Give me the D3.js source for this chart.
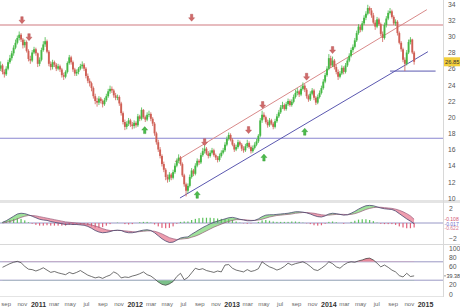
<!DOCTYPE html>
<html>
<head>
<meta charset="utf-8">
<style>
  body { margin: 0; background: #fff; }
  svg { display: block; font-family: "Liberation Sans", Arial, sans-serif; }
</style>
</head>
<body>
<svg id="chart" width="460" height="308"></svg>
<script src="https://cdn.jsdelivr.net/npm/d3@7/dist/d3.min.js"></script>
<script>
// weekly bars, first one on 13 Aug 2010
var startDate = new Date(2010, 7, 13);

var opens = [
  26.0, 26.4, 25.6, 25.3, 26.0, 26.8, 27.3, 27.9, 28.6, 29.2,
  29.8, 30.2, 29.6, 28.9, 29.3, 28.2, 27.2, 27.0, 28.0, 28.4,
  27.9, 26.6, 27.1, 28.3, 29.0, 29.4, 28.1, 26.6, 26.2, 26.8,
  26.5, 26.0, 26.3, 25.9, 25.2, 25.0, 25.6, 26.7, 27.4, 26.8,
  25.9, 25.4, 25.6, 26.0, 26.3, 26.5, 26.0, 25.1, 24.5, 24.2,
  23.6, 22.6, 22.0, 21.8, 22.3, 22.0, 21.6, 22.1, 22.6, 23.2,
  23.5, 23.3, 22.7, 22.4, 22.5, 21.7, 20.5, 19.4, 18.8, 19.2,
  19.6, 19.1, 18.9, 19.3, 19.0, 20.1, 19.8, 20.9, 20.0, 19.7,
  20.3, 20.4, 19.8, 19.2, 18.0, 16.9, 16.0, 15.2, 14.2, 13.5,
  12.6, 12.3, 12.9, 12.5, 13.2, 14.0, 14.6, 15.0, 14.2, 12.8,
  11.7, 10.9, 11.5, 12.6, 13.4, 13.0, 14.0, 14.6, 14.4, 15.3,
  15.8, 16.1, 15.5, 15.2, 15.6, 15.9, 15.3, 15.0, 14.7, 15.2,
  15.6, 15.9, 16.6, 17.3, 17.8, 17.2, 16.6, 16.0, 16.3, 16.9,
  16.6, 16.1, 15.9, 16.4, 16.8, 16.3, 15.8, 16.2, 16.6, 17.0,
  17.7, 19.6, 20.3, 20.0, 19.4, 19.0, 19.6, 19.2, 18.8, 19.5,
  20.1, 20.6, 21.2, 21.5, 21.0, 21.6, 22.0, 21.5, 21.9, 22.5,
  23.0, 23.2, 22.8, 23.5, 23.9, 23.4, 22.6, 22.2, 22.9, 23.3,
  22.4, 21.8, 22.5, 23.0, 23.6, 24.4, 25.2, 26.0, 27.3, 26.4,
  27.0, 26.2, 25.6, 25.0, 25.4, 26.1, 25.6, 26.4, 27.0, 27.6,
  28.3, 28.7, 29.5, 30.4, 31.2, 30.8, 31.6, 32.3, 32.8, 33.5,
  33.2, 32.6, 31.7, 31.2, 32.1, 31.5, 30.3, 29.8, 31.4, 32.2,
  32.9, 33.1, 32.4, 31.6, 31.8, 30.4, 29.2, 28.4, 27.1, 26.6,
  28.0, 29.3, 29.6, 28.0
];
var highs = [
  26.9, 26.6, 25.9, 26.3, 27.1, 27.7, 28.2, 28.9, 29.6, 30.1,
  30.6, 30.4, 29.8, 29.6, 29.5, 28.4, 27.6, 28.3, 28.7, 28.6,
  28.0, 27.4, 28.6, 29.4, 29.9, 29.6, 28.3, 26.9, 27.1, 27.0,
  26.7, 26.6, 26.5, 26.1, 25.5, 25.8, 26.9, 27.7, 27.6, 27.0,
  26.1, 25.9, 26.2, 26.6, 26.9, 26.7, 26.2, 25.4, 24.8, 24.4,
  23.8, 22.9, 22.4, 22.6, 22.5, 22.2, 22.4, 22.9, 23.5, 23.9,
  23.8, 23.5, 23.0, 22.8, 22.7, 21.9, 20.7, 19.7, 19.5, 19.9,
  19.8, 19.4, 19.6, 19.5, 20.4, 20.3, 21.2, 21.0, 20.2, 20.6,
  20.8, 20.6, 20.0, 19.4, 18.2, 17.2, 16.3, 15.4, 14.5, 13.7,
  12.9, 13.2, 13.1, 13.5, 14.3, 14.9, 15.4, 15.2, 14.4, 13.0,
  11.9, 11.8, 12.9, 13.7, 13.6, 14.3, 14.9, 14.8, 15.6, 16.2,
  16.5, 16.3, 15.8, 15.9, 16.2, 16.1, 15.5, 15.2, 15.5, 15.9,
  16.2, 16.9, 17.6, 18.1, 18.0, 17.4, 16.8, 16.6, 17.2, 17.1,
  16.8, 16.4, 16.7, 17.2, 17.0, 16.5, 16.5, 16.9, 17.3, 17.9,
  19.9, 20.8, 20.6, 20.2, 19.7, 19.9, 19.8, 19.4, 19.8, 20.4,
  20.9, 21.5, 21.9, 21.7, 21.9, 22.3, 22.2, 22.2, 22.8, 23.4,
  23.6, 23.4, 23.8, 24.3, 24.1, 23.6, 22.8, 23.2, 23.6, 23.5,
  22.6, 22.8, 23.3, 23.9, 24.7, 25.5, 26.3, 27.8, 27.6, 27.5,
  27.2, 26.5, 25.9, 25.7, 26.4, 26.3, 26.7, 27.3, 27.9, 28.6,
  29.0, 29.8, 30.7, 31.5, 31.4, 31.9, 32.6, 33.1, 33.9, 33.7,
  33.5, 32.9, 32.0, 32.4, 32.3, 31.7, 30.6, 31.7, 32.5, 33.2,
  33.5, 33.3, 32.6, 32.1, 32.0, 30.6, 29.4, 28.6, 27.4, 28.3,
  29.6, 29.9, 29.7, 28.2
];
var lows = [
  25.7, 25.3, 24.9, 25.1, 25.8, 26.6, 27.0, 27.6, 28.4, 29.0,
  29.5, 29.3, 28.5, 28.6, 28.0, 26.9, 26.6, 26.8, 27.8, 27.6,
  26.2, 26.3, 26.9, 28.1, 28.7, 27.9, 26.3, 25.8, 25.9, 26.2,
  25.7, 25.8, 25.6, 24.9, 24.6, 24.8, 25.4, 26.5, 26.5, 25.6,
  25.1, 25.1, 25.3, 25.8, 26.0, 25.7, 24.8, 24.2, 23.8, 23.2,
  22.3, 21.6, 21.3, 21.5, 21.7, 21.2, 21.4, 21.9, 22.4, 22.9,
  23.0, 22.4, 22.1, 22.1, 21.4, 20.2, 19.1, 18.4, 18.5, 18.9,
  18.8, 18.5, 18.6, 18.7, 18.8, 19.5, 19.6, 19.8, 19.4, 19.5,
  20.0, 19.5, 18.9, 17.7, 16.6, 15.7, 14.9, 13.9, 13.2, 12.2,
  11.9, 12.0, 12.2, 12.3, 13.0, 13.8, 14.3, 14.0, 12.6, 11.4,
  10.2, 10.6, 11.3, 12.4, 12.7, 12.8, 13.8, 14.1, 14.2, 15.1,
  15.5, 15.3, 14.9, 15.0, 15.4, 15.1, 14.7, 14.4, 14.5, 15.0,
  15.4, 15.7, 16.4, 17.1, 17.0, 16.4, 15.7, 15.8, 16.1, 16.4,
  15.8, 15.6, 15.7, 16.2, 16.1, 15.5, 15.6, 16.0, 16.4, 16.8,
  17.5, 19.3, 19.7, 19.2, 18.7, 18.8, 19.0, 18.5, 18.6, 19.3,
  19.9, 20.4, 21.0, 20.8, 20.8, 21.4, 21.3, 21.3, 21.7, 22.3,
  22.7, 22.5, 22.6, 23.3, 23.1, 22.3, 21.9, 22.0, 22.7, 22.1,
  21.5, 21.6, 22.3, 22.8, 23.4, 24.2, 25.0, 25.8, 26.1, 26.2,
  25.9, 25.3, 24.6, 24.8, 25.2, 25.3, 25.4, 26.2, 26.8, 27.4,
  28.0, 28.5, 29.3, 30.2, 30.5, 30.6, 31.4, 32.0, 32.6, 32.8,
  32.3, 31.5, 30.8, 31.0, 31.3, 30.0, 29.3, 29.6, 31.1, 32.0,
  32.7, 32.2, 31.4, 31.3, 30.1, 29.0, 28.1, 26.8, 25.7, 26.4,
  27.8, 29.0, 27.8, 26.5
];
var closes = [
  26.4, 25.6, 25.3, 26.0, 26.8, 27.3, 27.9, 28.6, 29.2, 29.8,
  30.2, 29.6, 28.9, 29.3, 28.2, 27.2, 27.0, 28.0, 28.4, 27.9,
  26.6, 27.1, 28.3, 29.0, 29.4, 28.1, 26.6, 26.2, 26.8, 26.5,
  26.0, 26.3, 25.9, 25.2, 25.0, 25.6, 26.7, 27.4, 26.8, 25.9,
  25.4, 25.6, 26.0, 26.3, 26.5, 26.0, 25.1, 24.5, 24.2, 23.6,
  22.6, 22.0, 21.8, 22.3, 22.0, 21.6, 22.1, 22.6, 23.2, 23.5,
  23.3, 22.7, 22.4, 22.5, 21.7, 20.5, 19.4, 18.8, 19.2, 19.6,
  19.1, 18.9, 19.3, 19.0, 20.1, 19.8, 20.9, 20.0, 19.7, 20.3,
  20.4, 19.8, 19.2, 18.0, 16.9, 16.0, 15.2, 14.2, 13.5, 12.6,
  12.3, 12.9, 12.5, 13.2, 14.0, 14.6, 15.0, 14.2, 12.8, 11.7,
  10.9, 11.5, 12.6, 13.4, 13.0, 14.0, 14.6, 14.4, 15.3, 15.8,
  16.1, 15.5, 15.2, 15.6, 15.9, 15.3, 15.0, 14.7, 15.2, 15.6,
  15.9, 16.6, 17.3, 17.8, 17.2, 16.6, 16.0, 16.3, 16.9, 16.6,
  16.1, 15.9, 16.4, 16.8, 16.3, 15.8, 16.2, 16.6, 17.0, 17.7,
  19.6, 20.3, 20.0, 19.4, 19.0, 19.6, 19.2, 18.8, 19.5, 20.1,
  20.6, 21.2, 21.5, 21.0, 21.6, 22.0, 21.5, 21.9, 22.5, 23.0,
  23.2, 22.8, 23.5, 23.9, 23.4, 22.6, 22.2, 22.9, 23.3, 22.4,
  21.8, 22.5, 23.0, 23.6, 24.4, 25.2, 26.0, 27.3, 26.4, 27.0,
  26.2, 25.6, 25.0, 25.4, 26.1, 25.6, 26.4, 27.0, 27.6, 28.3,
  28.7, 29.5, 30.4, 31.2, 30.8, 31.6, 32.3, 32.8, 33.5, 33.2,
  32.6, 31.7, 31.2, 32.1, 31.5, 30.3, 29.8, 31.4, 32.2, 32.9,
  33.1, 32.4, 31.6, 31.8, 30.4, 29.2, 28.4, 27.1, 26.6, 28.0,
  29.3, 29.6, 28.0, 26.85
];

// indicators, one reading every second bar (bars 1, 3, 5 ...)
var macdLine = [
  0.1, 0.3, 0.6, 0.9, 1.2, 1.3, 1.25, 1.1, 0.9, 0.7,
  0.5, 0.4, 0.35, 0.2, 0.1, 0.0, -0.1, -0.2, -0.15, -0.2,
  -0.2, -0.25, -0.3, -0.45, -0.7, -1.0, -1.2, -1.3, -1.25, -1.15,
  -1.0, -0.95, -1.0, -1.2, -1.3, -1.3, -1.2, -1.05, -0.95, -0.9,
  -1.0, -1.3, -1.7, -2.1, -2.4, -2.6, -2.55, -2.3, -2.0, -1.9,
  -1.85, -1.5, -1.2, -0.9, -0.6, -0.35, -0.1, 0.1, 0.25, 0.4,
  0.55, 0.7, 0.75, 0.65, 0.5, 0.4, 0.3, 0.3, 0.35, 0.55,
  0.85, 1.05, 1.1, 1.1, 1.15, 1.2, 1.25, 1.3, 1.4, 1.5,
  1.5, 1.45, 1.35, 1.2, 1.0, 0.85, 0.8, 0.95, 1.2, 1.3,
  1.25, 1.15, 1.05, 1.1, 1.3, 1.55, 1.85, 2.1, 2.3, 2.35,
  2.3, 2.15, 2.0, 1.9, 1.85, 1.8, 1.6, 1.25, 0.9, 0.55, 0.25, -0.1
];
var signalLine = [
  0.0, 0.1, 0.2, 0.35, 0.55, 0.75, 0.9, 1.0, 1.0, 0.95,
  0.85, 0.75, 0.65, 0.55, 0.45, 0.35, 0.25, 0.15, 0.1, 0.05,
  0.0, -0.05, -0.1, -0.15, -0.25, -0.4, -0.55, -0.75, -0.9, -1.0,
  -1.0, -1.0, -1.0, -1.05, -1.1, -1.15, -1.2, -1.15, -1.1, -1.05,
  -1.05, -1.1, -1.25, -1.45, -1.7, -1.95, -2.1, -2.2, -2.15, -2.1,
  -2.05, -1.9, -1.75, -1.55, -1.3, -1.05, -0.8, -0.55, -0.35, -0.15,
  0.05, 0.2, 0.35, 0.45, 0.45, 0.45, 0.4, 0.35, 0.35, 0.4,
  0.5, 0.65, 0.8, 0.9, 1.0, 1.05, 1.1, 1.15, 1.2, 1.3,
  1.35, 1.4, 1.4, 1.35, 1.3, 1.2, 1.1, 1.05, 1.05, 1.1,
  1.15, 1.15, 1.15, 1.1, 1.15, 1.25, 1.4, 1.6, 1.8, 1.95,
  2.05, 2.1, 2.1, 2.05, 2.0, 1.95, 1.85, 1.7, 1.5, 1.25, 0.95, 0.5
];
var rsiValues = [
  58, 62, 66, 69, 71, 68, 60, 54, 53, 50,
  53, 57, 52, 47, 49, 46, 44, 42, 47, 44,
  47, 51, 46, 41, 38, 35, 37, 34, 38, 41,
  48, 44, 35, 37, 36, 39, 41, 44, 48, 42,
  39, 33, 26, 21, 19, 22, 27, 38, 45, 31,
  36, 46, 56, 53, 55, 51, 49, 47, 50, 48,
  63, 64, 56, 52, 50, 48, 53, 49, 51, 55,
  70, 64, 59, 56, 52, 55, 60, 67, 63, 66,
  68, 70, 66, 60, 53, 51, 56, 62, 70, 66,
  59, 56, 63, 68, 70, 69, 72, 74, 77, 78,
  74, 67, 59, 63, 58, 52, 48, 40, 37, 45, 38, 39.38
];

var priceTicks = [10, 12, 14, 16, 18, 20, 22, 24, 26, 28, 30, 32, 34];
var macdTicks = [2, -2];
var rsiTicks = [100, 80, 60, 20, 0];
var rsiBands = [70, 30];
var lastPrice = "26.85";
var macdLabels = ["-0.108", "-0.017", "-0.622"];
var rsiLabel = "39.38";

var resistance = 31.4;
var support = 17.4;
// trend lines as [date, price] pairs
var upperChannel = [[new Date(2012, 5, 1), 14.5], [new Date(2015, 0, 8), 33.3]];
var lowerChannel = [[new Date(2012, 5, 20), 10.0], [new Date(2015, 0, 12), 28.1]];
var shortSupport = [[new Date(2014, 7, 22), 25.7], [new Date(2015, 1, 10), 25.7]];
// signal arrows as [bar position, price]
var downArrows = [[11.5, 32.0], [15.3, 29.9], [103, 32.3], [110, 16.9], [133.7, 18.4], [141.3, 21.5], [165, 25.0], [179, 28.3]];
var upArrows = [[77.7, 18.4], [106, 10.4], [142, 15.0], [164, 18.2]];

var svg = d3.select('#chart');
var plotRight = 443;

function barDate(i) {
  return new Date(startDate.getTime() + i * 7 * 864e5);
}

var bars = closes.map(function(c, i) {
  return { date: barDate(i), o: opens[i], h: highs[i], l: lows[i], c: c };
});
var ind = macdLine.map(function(m, j) {
  return { date: barDate(2 * j + 1), m: m, s: signalLine[j], r: rsiValues[j] };
});

var x = d3.scaleTime()
  .domain([new Date(2011, 0, 1), new Date(2015, 0, 1)])
  .range([38, 425]);
var y = d3.scaleLinear().domain([10, 34]).range([198, 4]);
var yM = d3.scaleLinear().domain([-2, 2]).range([238, 208]);
var yR = d3.scaleLinear().domain([0, 100]).range([294, 248]);

var defs = svg.append('defs');
defs.append('clipPath').attr('id', 'clipMain')
  .append('rect').attr('x', 0).attr('y', 0).attr('width', plotRight).attr('height', 200);
defs.append('clipPath').attr('id', 'clipMacd')
  .append('rect').attr('x', 0).attr('y', 203).attr('width', plotRight).attr('height', 41);

// panel frames
svg.append('rect').attr('x', 0).attr('y', 200).attr('width', 460).attr('height', 3).attr('fill', '#e4e4e4');
svg.append('line').attr('x1', 0).attr('x2', 460).attr('y1', 244.5).attr('y2', 244.5).attr('stroke', '#d8d8d8');
svg.append('line').attr('x1', 0).attr('x2', plotRight).attr('y1', 296.5).attr('y2', 296.5).attr('stroke', '#e4e4e4');
svg.append('line').attr('x1', plotRight + 0.5).attr('x2', plotRight + 0.5).attr('y1', 0).attr('y2', 297).attr('stroke', '#d8d8d8');

// ---------- main panel ----------
var main = svg.append('g').attr('clip-path', 'url(#clipMain)');

main.append('line')
  .attr('x1', 0).attr('x2', plotRight)
  .attr('y1', y(resistance)).attr('y2', y(resistance))
  .attr('stroke', '#cf7a80').attr('stroke-width', 1.1);
main.append('line')
  .attr('x1', 0).attr('x2', plotRight)
  .attr('y1', y(support)).attr('y2', y(support))
  .attr('stroke', '#8a86d0').attr('stroke-width', 1.1);

var trend = d3.line().x(function(d) { return x(d[0]); }).y(function(d) { return y(d[1]); });
main.append('path').attr('d', trend(upperChannel)).attr('stroke', '#d98a8a').attr('stroke-width', 1).attr('fill', 'none');
main.append('path').attr('d', trend(lowerChannel)).attr('stroke', '#5b58b0').attr('stroke-width', 1).attr('fill', 'none');
main.append('path').attr('d', trend(shortSupport)).attr('stroke', '#5b58b0').attr('stroke-width', 1).attr('fill', 'none');

var upCol = '#45b845', downCol = '#cf5f55';
var candle = main.selectAll('g.candle').data(bars).enter().append('g').attr('class', 'candle');
candle.append('line')
  .attr('x1', function(d) { return x(d.date); })
  .attr('x2', function(d) { return x(d.date); })
  .attr('y1', function(d) { return y(d.h); })
  .attr('y2', function(d) { return y(d.l); })
  .attr('stroke', function(d) { return d.c >= d.o ? upCol : downCol; })
  .attr('stroke-width', 0.8);
candle.append('rect')
  .attr('x', function(d) { return x(d.date) - 0.95; })
  .attr('width', 1.9)
  .attr('y', function(d) { return y(Math.max(d.o, d.c)); })
  .attr('height', function(d) { return Math.max(0.8, Math.abs(y(d.o) - y(d.c))); })
  .attr('fill', function(d) { return d.c >= d.o ? upCol : downCol; });

var downPath = 'M0,3.5 L-3,0 L-1.2,0 L-1.2,-3.5 L1.2,-3.5 L1.2,0 L3,0 Z';
var upPath = 'M0,-3.5 L-3,0 L-1.2,0 L-1.2,3.5 L1.2,3.5 L1.2,0 L3,0 Z';
main.selectAll('path.dn').data(downArrows).enter().append('path')
  .attr('class', 'dn').attr('d', downPath)
  .attr('transform', function(d) { return 'translate(' + x(barDate(d[0])) + ',' + y(d[1]) + ')'; })
  .attr('fill', '#d06a6a').attr('stroke', '#b04848').attr('stroke-width', 0.4);
main.selectAll('path.up').data(upArrows).enter().append('path')
  .attr('class', 'up').attr('d', upPath)
  .attr('transform', function(d) { return 'translate(' + x(barDate(d[0])) + ',' + y(d[1]) + ')'; })
  .attr('fill', '#4cbc4c').attr('stroke', '#2f962f').attr('stroke-width', 0.4);

// price axis
var pAxis = svg.append('g')
  .attr('transform', 'translate(' + plotRight + ',0)')
  .call(d3.axisRight(y).tickValues(priceTicks).tickSize(0).tickPadding(5).tickFormat(d3.format('d')));
pAxis.select('.domain').remove();
pAxis.selectAll('text').attr('font-size', 6.8).attr('fill', '#555');

svg.append('rect')
  .attr('x', plotRight + 1).attr('y', y(26.85) - 4.5).attr('width', 16).attr('height', 9)
  .attr('fill', '#f3cf3a');
svg.append('text')
  .attr('x', plotRight + 2).attr('y', y(26.85) + 2.2)
  .attr('font-size', 5.8).attr('fill', '#333').text(lastPrice);

// ---------- MACD panel ----------
var mg = svg.append('g').attr('clip-path', 'url(#clipMacd)');
var mx = function(d) { return x(d.date); };

var below = d3.area().x(mx).y0(244).y1(function(d) { return yM(d.m); });
var above = d3.area().x(mx).y0(203).y1(function(d) { return yM(d.m); });
defs.append('clipPath').attr('id', 'belowMacd').append('path').attr('d', below(ind));
defs.append('clipPath').attr('id', 'aboveMacd').append('path').attr('d', above(ind));

mg.append('path')
  .attr('d', d3.area().x(mx).y0(function(d) { return yM(d.s); }).y1(203)(ind))
  .attr('clip-path', 'url(#belowMacd)').attr('fill', '#8fdc8a').attr('opacity', 0.85);
mg.append('path')
  .attr('d', d3.area().x(mx).y0(function(d) { return yM(d.s); }).y1(244)(ind))
  .attr('clip-path', 'url(#aboveMacd)').attr('fill', '#eb8ca0').attr('opacity', 0.85);

mg.append('line').attr('x1', 0).attr('x2', plotRight).attr('y1', yM(0)).attr('y2', yM(0))
  .attr('stroke', '#7f7fb8').attr('stroke-width', 0.8);

mg.selectAll('rect.hist').data(ind).enter().append('rect')
  .attr('class', 'hist')
  .attr('x', function(d) { return x(d.date) - 0.6; })
  .attr('width', 1.2)
  .attr('y', function(d) { return Math.min(yM(0), yM(d.m - d.s)); })
  .attr('height', function(d) { return Math.abs(yM(d.m - d.s) - yM(0)); })
  .attr('fill', function(d) { return d.m >= d.s ? '#5cc25c' : '#e0607a'; });

mg.append('path').datum(ind)
  .attr('d', d3.line().x(mx).y(function(d) { return yM(d.s); }))
  .attr('fill', 'none').attr('stroke', '#9a5a7a').attr('stroke-width', 0.7);
mg.append('path').datum(ind)
  .attr('d', d3.line().x(mx).y(function(d) { return yM(d.m); }))
  .attr('fill', 'none').attr('stroke', '#4a4870').attr('stroke-width', 0.8);

var mAxis = svg.append('g')
  .attr('transform', 'translate(' + plotRight + ',0)')
  .call(d3.axisRight(yM).tickValues(macdTicks).tickSize(0).tickPadding(6).tickFormat(d3.format('d')));
mAxis.select('.domain').remove();
mAxis.selectAll('text').attr('font-size', 6.8).attr('fill', '#555');

var macdColors = ['#d0506e', '#6c6cc8', '#d87890'];
svg.selectAll('text.mlab').data(macdLabels).enter().append('text')
  .attr('class', 'mlab')
  .attr('x', plotRight + 1.5)
  .attr('y', function(d, i) { return 221 + i * 4.5; })
  .attr('font-size', 5)
  .attr('fill', function(d, i) { return macdColors[i]; })
  .text(function(d) { return d; });

// ---------- RSI panel ----------
var rg = svg.append('g');
rsiBands.forEach(function(v) {
  rg.append('line').attr('x1', 0).attr('x2', plotRight).attr('y1', yR(v)).attr('y2', yR(v))
    .attr('stroke', '#9a98c4').attr('stroke-width', 1);
});
defs.append('clipPath').attr('id', 'rsiHigh')
  .append('rect').attr('x', 0).attr('y', 246).attr('width', plotRight).attr('height', yR(70) - 246);
defs.append('clipPath').attr('id', 'rsiLow')
  .append('rect').attr('x', 0).attr('y', yR(30)).attr('width', plotRight).attr('height', 296 - yR(30));
rg.append('path')
  .attr('d', d3.area().x(mx).y0(yR(70)).y1(function(d) { return yR(d.r); })(ind))
  .attr('clip-path', 'url(#rsiHigh)').attr('fill', '#e88a9a');
rg.append('path')
  .attr('d', d3.area().x(mx).y0(yR(30)).y1(function(d) { return yR(d.r); })(ind))
  .attr('clip-path', 'url(#rsiLow)').attr('fill', '#7cc08a');
rg.append('path').datum(ind)
  .attr('d', d3.line().x(mx).y(function(d) { return yR(d.r); }))
  .attr('fill', 'none').attr('stroke', '#333').attr('stroke-width', 0.7);

var rAxis = svg.append('g')
  .attr('transform', 'translate(' + plotRight + ',0)')
  .call(d3.axisRight(yR).tickValues(rsiTicks).tickSize(0).tickPadding(6).tickFormat(d3.format('d')));
rAxis.select('.domain').remove();
rAxis.selectAll('text').attr('font-size', 6.8).attr('fill', '#555');

svg.append('line').attr('x1', plotRight + 1).attr('x2', plotRight + 3)
  .attr('y1', yR(39.38)).attr('y2', yR(39.38)).attr('stroke', '#555').attr('stroke-width', 0.6);
svg.append('text').attr('x', plotRight + 3.5).attr('y', yR(39.38) + 2)
  .attr('font-size', 5.4).attr('fill', '#444').text(rsiLabel);

// ---------- time axis ----------
var monthTicks = d3.timeMonth.every(2).range(new Date(2010, 8, 1), new Date(2015, 0, 2));
var fmtMonth = d3.timeFormat('%b');
var xAxis = svg.append('g')
  .attr('transform', 'translate(0,298)')
  .call(d3.axisBottom(x).tickValues(monthTicks).tickSize(0).tickPadding(4)
    .tickFormat(function(d) { return d.getMonth() === 0 ? d.getFullYear() : fmtMonth(d).toLowerCase(); }));
xAxis.select('.domain').remove();
xAxis.selectAll('text')
  .attr('font-size', function(d) { return d.getMonth() === 0 ? 7 : 6; })
  .attr('font-weight', function(d) { return d.getMonth() === 0 ? 'bold' : 'normal'; })
  .attr('fill', function(d) { return d.getMonth() === 0 ? '#333' : '#666'; });
</script>
</body>
</html>
